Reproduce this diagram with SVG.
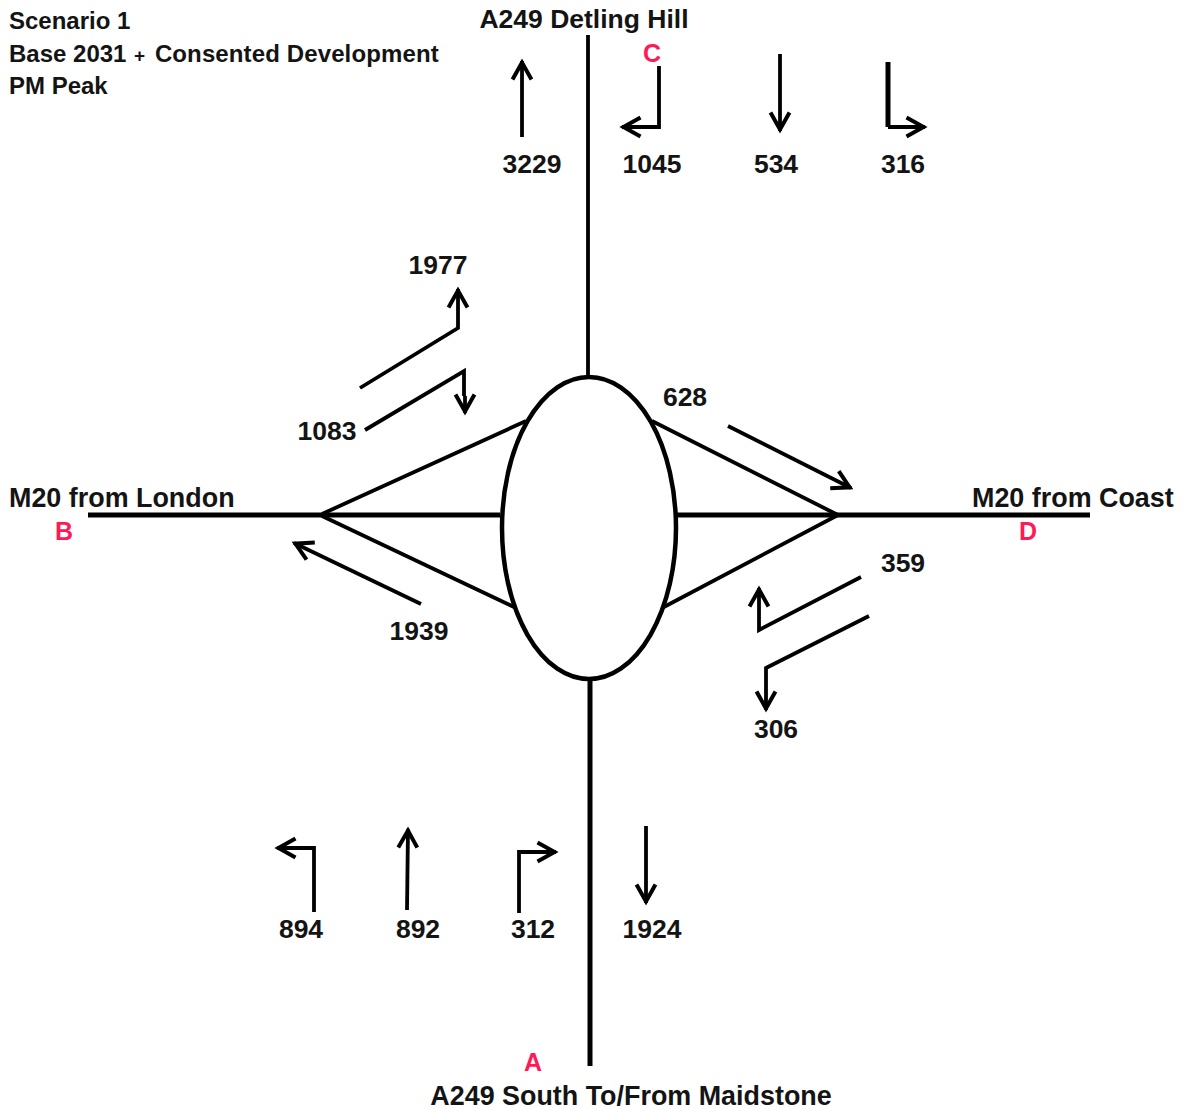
<svg xmlns="http://www.w3.org/2000/svg" width="1184" height="1111" viewBox="0 0 1184 1111">
<defs>
<marker id="a" markerUnits="userSpaceOnUse" markerWidth="40" markerHeight="40" viewBox="-20 -20 40 40" refX="1.5" refY="0" orient="auto" overflow="visible"><path d="M-17,-9.5 L0,0 L-17,9.5" fill="none" stroke="#000" stroke-width="4"/></marker>
</defs>
<style>
text{font-family:"Liberation Sans",Arial,sans-serif;font-size:26.5px;font-weight:700;fill:#141414}
.t{font-size:24px}
.p{font-size:19px}
.r{fill:#ff1a55;font-size:25px}
.m{text-anchor:middle}
.w{font-size:26.9px}
.l{fill:none;stroke:#000;stroke-width:3.8}
.h{fill:none;stroke:#000;stroke-width:5}
.n{fill:#fff;stroke:#000;stroke-width:4.5}
</style>
<rect width="1184" height="1111" fill="#fff"/>
<g id="connectors">
<path class="l" d="M588,35V378"/>
<path class="h" d="M590,680V1066"/>
<path class="h" d="M88,515H500"/>
<path class="h" d="M676,515H1090"/>
<path class="l" d="M322,514L526,421M322,516L516,608M838,515L652,421M838,515L662,608"/>
<path class="l" marker-end="url(#a)" d="M522,137V61"/>
<path class="l" marker-end="url(#a)" d="M659,66V127H622"/>
<path class="l" marker-end="url(#a)" d="M780,54V131"/>
<path class="l" d="M888,62V127" style="stroke-width:5"/>
<path class="l" marker-end="url(#a)" d="M888,127H925"/>
<path class="l" marker-end="url(#a)" d="M360,388L458,328V289"/>
<path class="l" d="M365,430L464,371V396"/>
<path class="l" marker-end="url(#a)" d="M465,396V413"/>
<path class="l" marker-end="url(#a)" d="M728,426L851,488"/>
<path class="l" marker-end="url(#a)" d="M421,604L294,543"/>
<path class="l" marker-end="url(#a)" d="M861,577L759,630V588"/>
<path class="l" marker-end="url(#a)" d="M869,616L766,668V710"/>
<path class="l" marker-end="url(#a)" d="M314,912V848H277"/>
<path class="l" marker-end="url(#a)" d="M407,910L408,829"/>
<path class="l" marker-end="url(#a)" d="M519,913V852H556"/>
<path class="l" marker-end="url(#a)" d="M646,826V903"/>
</g>
<g id="roundabout"><ellipse class="n" cx="589" cy="528" rx="87" ry="151"/></g>
<g id="title"><text class="t" x="9" y="29">Scenario 1</text><text class="t" x="9" y="62">Base 2031 <tspan class="p" dx="1">+</tspan> <tspan dx="3" letter-spacing=".12">Consented Development</tspan></text><text class="t" x="9" y="94">PM Peak</text></g>
<g id="arm-a"><text class="r m" x="533" y="1071">A</text><text class="m w" x="631" y="1105">A249 South To/From Maidstone</text></g>
<g id="arm-b"><text class="w" x="9" y="507">M20 from London</text><text class="r m" x="64" y="540">B</text></g>
<g id="arm-c"><text class="m" x="584" y="28">A249 Detling Hill</text><text class="r m" x="652" y="62">C</text></g>
<g id="arm-d"><text class="w" x="972" y="507">M20 from Coast</text><text class="r m" x="1028" y="540">D</text></g>
<g id="flows">
<text class="m" x="532" y="173">3229</text><text class="m" x="652" y="173">1045</text><text class="m" x="776" y="173">534</text><text class="m" x="903" y="173">316</text>
<text class="m" x="438" y="274">1977</text><text class="m" x="327" y="440">1083</text><text class="m" x="685" y="406">628</text>
<text class="m" x="419" y="640">1939</text><text class="m" x="903" y="572">359</text><text class="m" x="776" y="738">306</text>
<text class="m" x="301" y="938">894</text><text class="m" x="418" y="938">892</text><text class="m" x="533" y="938">312</text><text class="m" x="652" y="938">1924</text>
</g>
</svg>
